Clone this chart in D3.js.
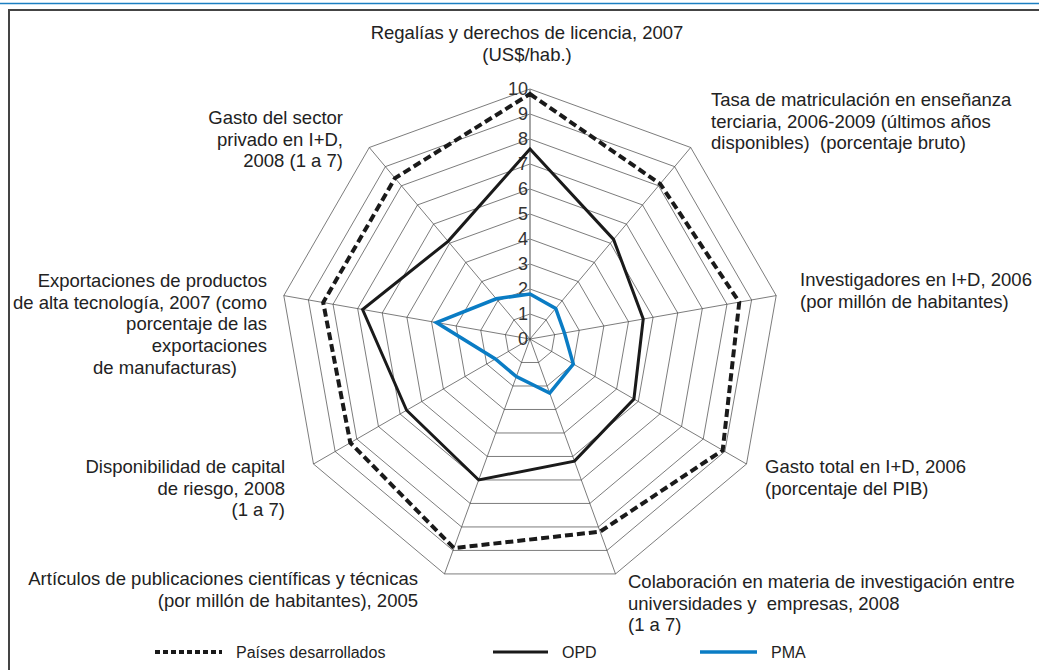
<!DOCTYPE html>
<html>
<head>
<meta charset="utf-8">
<script src="https://cdn.jsdelivr.net/npm/d3@7"></script>
<style>
  body { margin: 0; background: #fff; }
  svg text { font-family: "Liberation Sans", Arial, sans-serif; fill: #222; }
</style>
</head>
<body>
<div class="chart"></div>
<script>
// axis titles, clockwise from the top
const axisTitles = [
    ["Regalías y derechos de licencia, 2007", "(US$/hab.)"],
    ["Tasa de matriculación en enseñanza", "terciaria, 2006-2009 (últimos años", "disponibles)  (porcentaje bruto)"],
    ["Investigadores en I+D, 2006", "(por millón de habitantes)"],
    ["Gasto total en I+D, 2006", "(porcentaje del PIB)"],
    ["Colaboración en materia de investigación entre", "universidades y  empresas, 2008", "(1 a 7)"],
    ["Artículos de publicaciones científicas y técnicas", "(por millón de habitantes), 2005"],
    ["Disponibilidad de capital", "de riesgo, 2008", "(1 a 7)"],
    ["Exportaciones de productos", "de alta tecnología, 2007 (como", "porcentaje de las", "exportaciones", "de manufacturas)"],
    ["Gasto del sector", "privado en I+D,", "2008 (1 a 7)"]
];

const seriesNames = ["Países desarrollados", "OPD", "PMA"];
const desarrollados = [9.8, 8.1, 8.5, 8.9, 8.2, 8.9, 8.3, 8.4, 8.4];
const opd = [7.6, 5.2, 4.6, 4.8, 5.2, 6.0, 5.7, 6.8, 5.1];
const pma = [1.8, 1.6, 1.4, 2.0, 2.3, 1.6, 1.6, 3.8, 2.1];
const tickValues = [0, 1, 2, 3, 4, 5, 6, 7, 8, 9, 10];

// where each title block sits (x, first line y, anchor)
const titleLayout = [
    { x: 527, y: 39, anchor: "middle" },
    { x: 711, y: 106, anchor: "start" },
    { x: 800, y: 286, anchor: "start" },
    { x: 765, y: 473, anchor: "start" },
    { x: 628, y: 588, anchor: "start" },
    { x: 418, y: 585, anchor: "end" },
    { x: 285, y: 473, anchor: "end" },
    { x: 267, y: 287, anchor: "end", last: 237 },
    { x: 343, y: 124, anchor: "end" }
];

const width = 1039, height = 670;
const cx = 530, cy = 339, R = 250;

const svg = d3.select(".chart")
    .append("svg")
    .attr("width", width)
    .attr("height", height);

// frame
svg.append("line")
    .attr("x1", 0).attr("x2", width).attr("y1", 3.5).attr("y2", 3.5)
    .attr("stroke", "#1c7fc1").attr("stroke-width", 1.5);
svg.append("path")
    .attr("d", "M9," + height + " V10 H" + width)
    .attr("fill", "none").attr("stroke", "#444").attr("stroke-width", 2);

const scaleR = d3.scaleLinear().domain([0, 10]).range([0, R]);
const angle = d3.scaleLinear().domain([0, axisTitles.length]).range([0, 2 * Math.PI]);

const g = svg.append("g").attr("transform", "translate(" + cx + "," + cy + ")");

const pt = (v, i) => [scaleR(v) * Math.sin(angle(i)), -scaleR(v) * Math.cos(angle(i))];

// rings
const idx = d3.range(axisTitles.length);
tickValues.slice(1).forEach(t => {
    g.append("path")
        .attr("d", d3.line()(idx.map(i => pt(t, i))) + "Z")
        .attr("fill", "none")
        .attr("stroke", "#444")
        .attr("stroke-width", 0.7);
});

// spokes
idx.forEach(i => {
    const p = pt(10, i);
    g.append("line")
        .attr("x1", 0).attr("y1", 0).attr("x2", p[0]).attr("y2", p[1])
        .attr("stroke", i === 0 ? "#888" : "#444")
        .attr("stroke-width", i === 0 ? 1.5 : 0.7);
});

// tick labels on the vertical axis
g.selectAll(".tick-label")
    .data(tickValues)
    .enter().append("text")
    .attr("class", "tick-label")
    .attr("x", -2)
    .attr("y", d => -scaleR(d))
    .attr("dy", "0.36em")
    .attr("text-anchor", "end")
    .attr("font-size", 18)
    .style("fill", "#333")
    .text(d => d);

// series
const lineFunc = d3.line().x(d => d[0]).y(d => d[1]).curve(d3.curveLinearClosed);
const drawSeries = (values, color, w, dash) => {
    g.append("path")
        .attr("d", lineFunc(values.map((v, i) => pt(v, i))))
        .attr("fill", "none")
        .attr("stroke", color)
        .attr("stroke-width", w)
        .attr("stroke-linejoin", "miter")
        .attr("stroke-dasharray", dash || null);
};
drawSeries(pma, "#0a7cc4", 3.5);
drawSeries(opd, "#1a1a1a", 3);
drawSeries(desarrollados, "#1a1a1a", 4, "8 4");

// axis titles
axisTitles.forEach((lines, i) => {
    const lay = titleLayout[i];
    lines.forEach((line, j) => {
        const isLast = lay.last && j === lines.length - 1;
        svg.append("text")
            .attr("x", isLast ? lay.last : lay.x)
            .attr("y", lay.y + j * 21.7)
            .attr("text-anchor", lay.anchor)
            .attr("font-size", 18.5)
            .attr("xml:space", "preserve")
            .text(line);
    });
});

// legend
const legend = [
    { name: seriesNames[0], x1: 155, x2: 222, color: "#1a1a1a", w: 4, dash: "5 3" },
    { name: seriesNames[1], x1: 493, x2: 548, color: "#1a1a1a", w: 3 },
    { name: seriesNames[2], x1: 700, x2: 757, color: "#0a7cc4", w: 3.5 }
];
const ly = 652;
legend.forEach(d => {
    svg.append("line")
        .attr("x1", d.x1).attr("x2", d.x2).attr("y1", ly).attr("y2", ly)
        .attr("stroke", d.color).attr("stroke-width", d.w)
        .attr("stroke-dasharray", d.dash || null);
    svg.append("text")
        .attr("x", d.x2 + 14).attr("y", ly).attr("dy", "0.36em")
        .attr("font-size", 16)
        .text(d.name);
});
</script>
</body>
</html>
